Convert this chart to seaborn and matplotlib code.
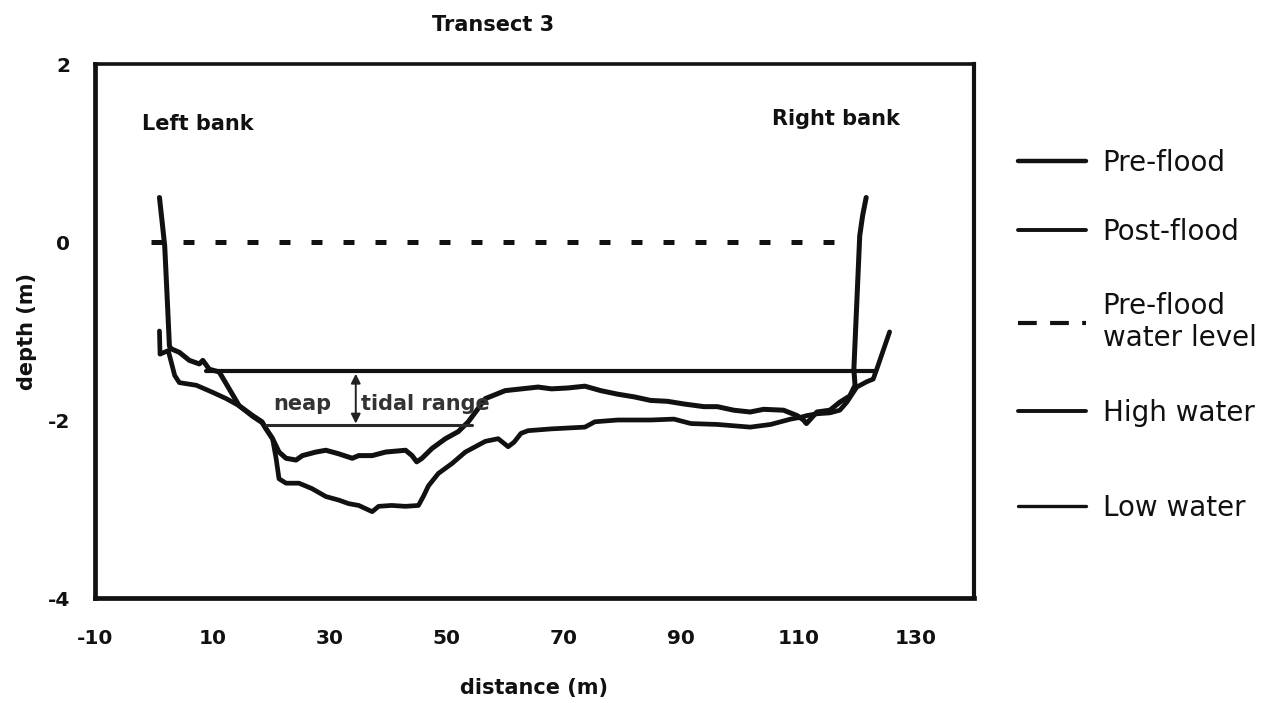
import matplotlib
matplotlib.use("Agg")
import matplotlib.pyplot as plt
from matplotlib.lines import Line2D
import numpy as np
import pandas as pd
import seaborn as sns

# ---- cross-section profiles (distance in m, depth in m) ----
pre_x = [1.0, 1.5, 1.9, 2.3, 2.7, 3.0, 4.4, 6.1, 7.8, 8.4, 9.5, 11.2, 12.9, 14.6, 16.9,
         18.5, 19.2, 20.3, 21.4, 22.6, 24.3, 25.4, 27.7, 29.4, 31.6, 33.9, 35.0,
         37.3, 39.6, 43.0, 44.1, 44.9, 45.8, 47.5, 49.8, 52.0, 53.7, 55.4, 56.6,
         60.0, 62.8, 65.6, 67.9, 70.7, 73.6, 76.3, 79.2, 82.0, 84.8, 87.7, 90.5,
         93.9, 96.2, 99.0, 101.8, 104.1, 107.5, 109.8, 110.9, 111.4, 113.2, 115.4,
         117.1, 118.8, 119.7, 119.5, 120.0, 120.5, 121.0, 121.6]
pre_y = [0.50, 0.20, -0.05, -0.60, -1.17, -1.20, -1.24, -1.33, -1.37, -1.33, -1.43, -1.46,
         -1.65, -1.84, -1.95, -2.02, -2.10, -2.21, -2.36, -2.43, -2.45, -2.40, -2.36,
         -2.34, -2.38, -2.43, -2.40, -2.40, -2.36, -2.34, -2.40, -2.47, -2.43, -2.32,
         -2.21, -2.13, -2.02, -1.87, -1.76, -1.67, -1.65, -1.63, -1.65, -1.64, -1.62,
         -1.67, -1.71, -1.74, -1.78, -1.79, -1.82, -1.85, -1.85, -1.89, -1.91, -1.88,
         -1.89, -1.95, -2.00, -2.04, -1.91, -1.89, -1.80, -1.73, -1.61, -1.43, -0.68,
         0.07, 0.30, 0.50]

post_x = [1.0, 1.1, 2.5, 3.6, 4.4, 7.3, 10.1, 12.4, 14.6, 16.9, 18.5, 19.2, 20.3,
          20.9, 21.4, 22.6, 24.8, 27.0, 29.4, 31.6, 33.3, 35.0, 37.3, 38.4, 40.6,
          43.0, 45.2, 46.1, 46.9, 48.6, 50.9, 53.2, 56.6, 58.8, 60.5, 61.5, 62.7,
          63.9, 67.8, 73.6, 75.3, 79.2, 84.8, 88.8, 91.7, 96.2, 101.8, 105.3, 108.7,
          110.4, 111.5, 113.2, 115.4, 117.1, 118.3, 120.0, 121.7, 122.8, 123.4, 125.6]
post_y = [-1.00, -1.26, -1.22, -1.50, -1.58, -1.61, -1.69, -1.76, -1.84, -1.96,
          -2.03, -2.10, -2.21, -2.43, -2.66, -2.71, -2.71, -2.77, -2.86, -2.90,
          -2.94, -2.96, -3.03, -2.97, -2.96, -2.97, -2.96, -2.85, -2.74, -2.60,
          -2.49, -2.36, -2.24, -2.21, -2.30, -2.25, -2.15, -2.12, -2.10, -2.08,
          -2.02, -2.00, -2.00, -1.99, -2.04, -2.05, -2.08, -2.05, -1.99, -1.97,
          -1.95, -1.93, -1.92, -1.89, -1.80, -1.63, -1.57, -1.54, -1.43, -1.01]

# water levels (start, end, level)
prewater_x = [-0.4, 118.0]
prewater_level = 0.0
high_x = [9.0, 123.0]
high_level = -1.45
low_x = [19.2, 54.3]
low_level = -2.06
arrow_x = 34.5

x_ticks = [-10, 10, 30, 50, 70, 90, 110, 130]
y_ticks = [-4, -2, 0, 2]
legend_labels = ["Pre-flood", "Post-flood", "Pre-flood\nwater level", "High water", "Low water"]

sns.set_style("white")
plt.rcParams["font.family"] = ["DejaVu Sans"]

W, H = 1273, 703
fig = plt.figure(figsize=(W / 100, H / 100), dpi=100)
ax = fig.add_axes([95 / W, 1 - 598 / H, 879 / W, 534 / H])

ink = "#111111"
pre_df = pd.DataFrame({"distance": pre_x, "depth": pre_y})
post_df = pd.DataFrame({"distance": post_x, "depth": post_y})
sns.lineplot(data=pre_df, x="distance", y="depth", sort=False, estimator=None,
             color=ink, lw=3.6, ax=ax, solid_joinstyle="round", solid_capstyle="round")
sns.lineplot(data=post_df, x="distance", y="depth", sort=False, estimator=None,
             color=ink, lw=3.4, ax=ax, solid_joinstyle="round", solid_capstyle="round")

pw_df = pd.DataFrame({"distance": prewater_x, "depth": [prewater_level] * 2})
sns.lineplot(data=pw_df, x="distance", y="depth", sort=False, estimator=None,
             color=ink, lw=3.6, ax=ax, linestyle=(0, (2.2, 4.2)), dash_capstyle="butt")
hw_df = pd.DataFrame({"distance": high_x, "depth": [high_level] * 2})
sns.lineplot(data=hw_df, x="distance", y="depth", sort=False, estimator=None,
             color=ink, lw=3.0, ax=ax)
lw_df = pd.DataFrame({"distance": low_x, "depth": [low_level] * 2})
sns.lineplot(data=lw_df, x="distance", y="depth", sort=False, estimator=None,
             color="#2a2a2a", lw=2.2, ax=ax)

# neap tidal range arrow
ax.annotate("", xy=(arrow_x, high_level - 0.03), xytext=(arrow_x, low_level + 0.02),
            arrowprops=dict(arrowstyle="<|-|>", color="#222222", lw=1.4,
                            mutation_scale=14, shrinkA=0, shrinkB=0))
ax.text(25.4, -1.82, "neap", ha="center", va="center", fontsize=15,
        fontweight="bold", color="#333333")
ax.text(35.4, -1.82, "tidal range", ha="left", va="center", fontsize=15,
        fontweight="bold", color="#333333")

ax.text(-1.9, 1.33, "Left bank", ha="left", va="center", fontsize=15, fontweight="bold", color=ink)
ax.text(105.5, 1.38, "Right bank", ha="left", va="center", fontsize=15, fontweight="bold", color=ink)

ax.set_xlim(-10, 140)
ax.set_ylim(-4, 2)
ax.set_xticks(x_ticks)
ax.set_yticks(y_ticks)
ax.set_xticklabels([str(v) for v in x_ticks])
ax.set_yticklabels([str(v) for v in y_ticks])
ax.tick_params(axis="both", which="major", direction="out", length=6, width=1.3,
               color=ink, labelsize=14.5, labelcolor=ink)
ax.tick_params(axis="x", pad=16)
ax.tick_params(axis="y", pad=12)
for lab in ax.get_xticklabels() + ax.get_yticklabels():
    lab.set_fontweight("bold")

ax.set_xlabel("distance (m)", fontsize=15, fontweight="bold", color=ink)
ax.set_ylabel("depth (m)", fontsize=15, fontweight="bold", color=ink)
ax.xaxis.set_label_coords(0.5, -0.15)
ax.yaxis.set_label_coords(-0.066, 0.5)

for side, lw in [("left", 3.4), ("bottom", 3.4), ("right", 3.0), ("top", 2.6)]:
    ax.spines[side].set_visible(True)
    ax.spines[side].set_color(ink)
    ax.spines[side].set_linewidth(lw)
ax.grid(False)
ax.set_facecolor("white")

fig.text(432 / W, 1 - 25 / H, "Transect 3", ha="left", va="center",
         fontsize=15, fontweight="bold", color=ink)

# legend entries, one per row
handles = [
    Line2D([], [], color=ink, lw=3.2),
    Line2D([], [], color=ink, lw=2.8),
    Line2D([], [], color=ink, lw=3.0, linestyle=(0, (4.5, 3.2)), dash_capstyle="butt"),
    Line2D([], [], color=ink, lw=2.8),
    Line2D([], [], color=ink, lw=2.4),
]
rows_y = [163, 232, 322, 413, 508]
for h, lab, yy in zip(handles, legend_labels, rows_y):
    fig.legend([h], [lab], loc="center left", bbox_to_anchor=(1018 / W, 1 - yy / H),
               frameon=False, fontsize=20, borderpad=0, borderaxespad=0,
               handlelength=2.45, handletextpad=0.6, labelcolor=ink)

fig.savefig("out.png", dpi=100, facecolor="white")
